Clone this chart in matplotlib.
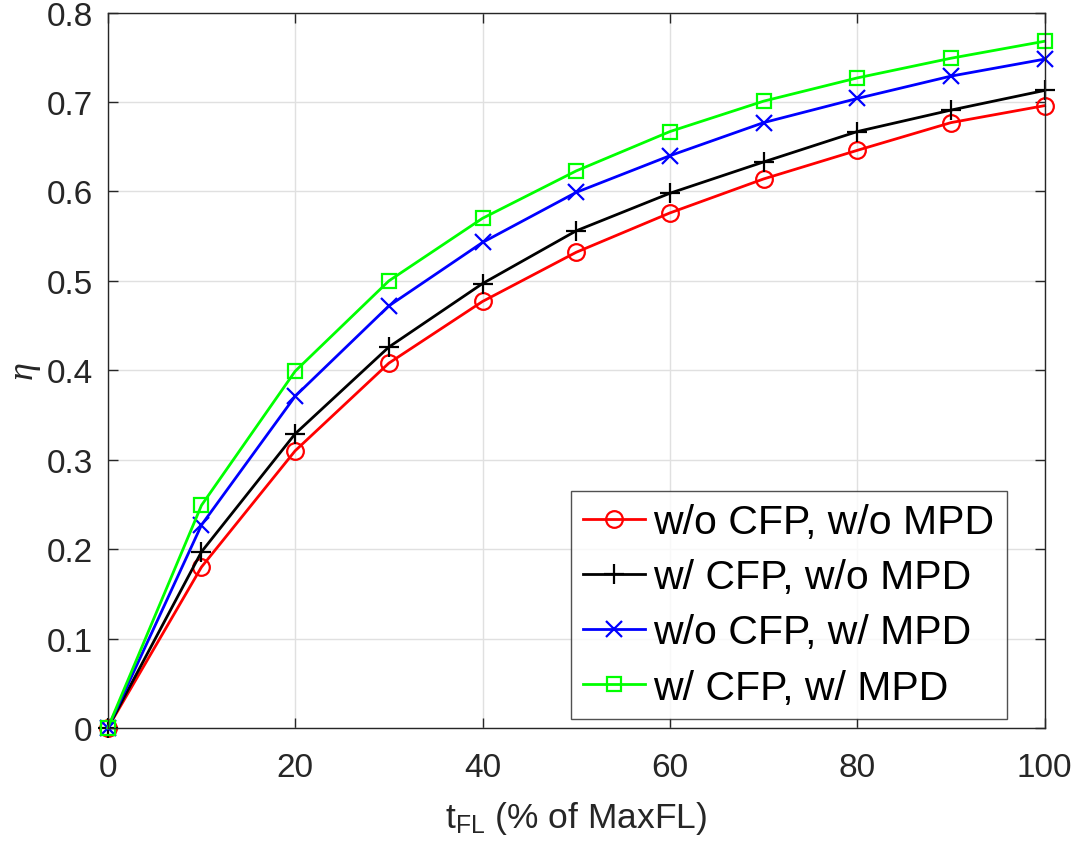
import matplotlib
matplotlib.use("Agg")
import matplotlib.pyplot as plt

# data
t_fl = [0, 10, 20, 30, 40, 50, 60, 70, 80, 90, 100]
eta_none = [0, 0.180, 0.310, 0.408, 0.477, 0.532, 0.576, 0.614, 0.646, 0.677, 0.696]
eta_cfp = [0, 0.197, 0.329, 0.426, 0.497, 0.556, 0.598, 0.633, 0.667, 0.691, 0.713]
eta_mpd = [0, 0.227, 0.371, 0.472, 0.543, 0.599, 0.640, 0.677, 0.704, 0.729, 0.748]
eta_both = [0, 0.249, 0.399, 0.500, 0.570, 0.623, 0.667, 0.701, 0.727, 0.749, 0.768]

labels = ['w/o CFP, w/o MPD', 'w/ CFP, w/o MPD', 'w/o CFP, w/ MPD', 'w/ CFP, w/ MPD']
colors = ['#ff0000', '#000000', '#0000ff', '#00ff00']
markers = ['o', '+', 'x', 's']
msizes = [12, 15, 12, 10]

plt.rcParams['font.family'] = ['Liberation Sans', 'DejaVu Sans']
plt.rcParams['mathtext.fontset'] = 'custom'
plt.rcParams['mathtext.rm'] = 'Liberation Sans'
plt.rcParams['mathtext.it'] = 'Liberation Serif:italic'

fig = plt.figure(figsize=(10.78, 8.53), dpi=100)
ax = fig.add_axes([0.100, 0.1454, 0.869, 0.8386])

for y, lab, c, m, ms in zip([eta_none, eta_cfp, eta_mpd, eta_both], labels, colors, markers, msizes):
    ax.plot(t_fl, y, color=c, marker=m, markersize=ms, markerfacecolor='none',
            markeredgewidth=1.6, linewidth=2, label=lab, clip_on=False)

ax.set_xlim(0, 100)
ax.set_ylim(0, 0.8)
ax.set_xticks([0, 20, 40, 60, 80, 100])
ax.set_yticks([0, 0.1, 0.2, 0.3, 0.4, 0.5, 0.6, 0.7, 0.8])
ax.set_yticklabels(['0', '0.1', '0.2', '0.3', '0.4', '0.5', '0.6', '0.7', '0.8'])
ax.grid(True, color='#e0e0e0', linewidth=1)
ax.set_axisbelow(True)
ax.tick_params(direction='in', length=7, width=1, colors='#262626', labelsize=24,
               top=True, right=True)
ax.tick_params(axis='x', pad=17)
ax.tick_params(axis='y', pad=11)
for s in ax.spines.values():
    s.set_color('#262626')
    s.set_linewidth(1)

ax.set_xlabel(r'$\mathregular{t_{FL}}$ (% of MaxFL)', fontsize=25.5, color='#262626', labelpad=12)
ax.set_ylabel(r'$\eta$', fontsize=26, color='#262626', labelpad=2)

leg = ax.legend(loc='lower right', bbox_to_anchor=(0.9594, 0.0126), fontsize=29.5,
                frameon=True, fancybox=False, edgecolor='#262626',
                handlelength=1.5, handletextpad=0.2, borderpad=0.3,
                labelspacing=0.42, borderaxespad=0)
leg.get_frame().set_linewidth(1)

fig.savefig('out.png', dpi=100)
